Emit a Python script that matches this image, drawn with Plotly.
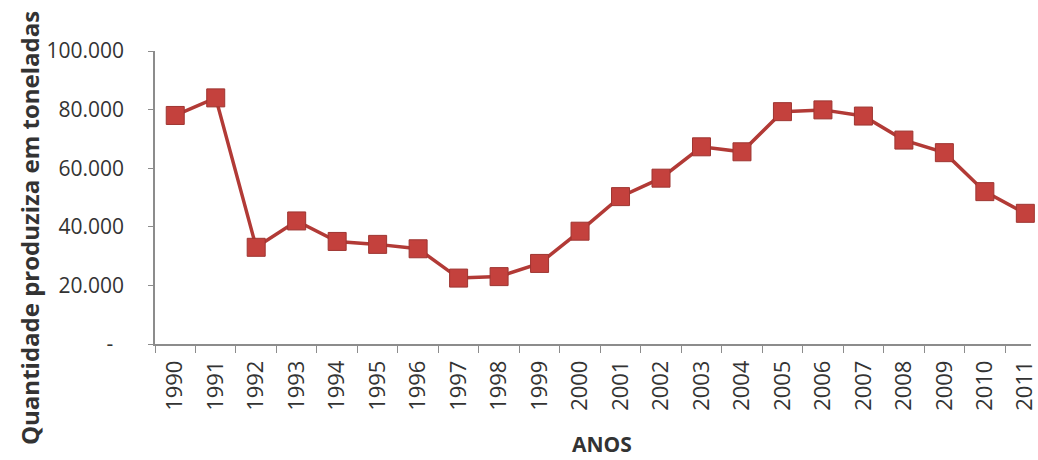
import plotly.graph_objects as go

# Annual production series (tonnes)
anos = [str(a) for a in range(1990, 2012)]
producao = [78000, 84000, 33000, 42000, 35000, 34000, 32500, 22500, 23000, 27500,
            38500, 50300, 56600, 67300, 65600, 79300, 79900, 77800, 69600, 65300,
            52000, 44600]

y_ticks = [0, 20000, 40000, 60000, 80000, 100000]
y_tick_text = ["-\u00a0\u00a0", "20.000", "40.000", "60.000", "80.000", "100.000"]

FONT = "Open Sans"
TEXT = "#333333"
AXIS = "#8c8c8c"

fig = go.Figure()
fig.add_trace(go.Scatter(
    x=anos,
    y=producao,
    mode="lines+markers",
    line=dict(color="#B23A36", width=3.5),
    marker=dict(symbol="square", size=18, color="#C4413D",
                line=dict(color="#9E3531", width=1)),
    cliponaxis=False,
    showlegend=False,
))

fig.update_layout(
    width=1038,
    height=460,
    margin=dict(l=155, r=0, t=51, b=116),
    paper_bgcolor="white",
    plot_bgcolor="white",
    font=dict(family=FONT, color=TEXT),
    xaxis=dict(
        type="category",
        range=[-0.5, 21.14],
        tickson="boundaries",
        ticks="outside",
        ticklen=7,
        tickcolor=AXIS,
        tickwidth=1,
        showline=True,
        linecolor=AXIS,
        linewidth=1.5,
        showgrid=False,
        zeroline=False,
        tickangle=-90,
        tickfont=dict(family=FONT, size=22, color=TEXT),
        ticklabelstandoff=6,
    ),
    yaxis=dict(
        range=[0, 100000],
        tickvals=y_ticks,
        ticktext=y_tick_text,
        ticks="outside",
        ticklen=5,
        tickcolor=AXIS,
        showline=True,
        linecolor=AXIS,
        linewidth=1.5,
        showgrid=False,
        zeroline=False,
        tickfont=dict(family=FONT, size=21, color=TEXT),
        ticklabelstandoff=20,
    ),
    annotations=[
        dict(text="<b>Quantidade produziza em toneladas</b>",
             xref="paper", yref="paper", x=0, y=0,
             xanchor="center", yanchor="middle",
             xshift=-126, yshift=344 - 228,
             textangle=-90, showarrow=False,
             font=dict(family=FONT, size=24, color=TEXT)),
        dict(text="<b>ANOS</b>",
             xref="paper", yref="paper", x=0, y=0,
             xanchor="center", yanchor="bottom",
             xshift=602 - 155, yshift=-116,
             showarrow=False,
             font=dict(family=FONT, size=21, color=TEXT)),
    ],
)

fig.write_html("out.html")
